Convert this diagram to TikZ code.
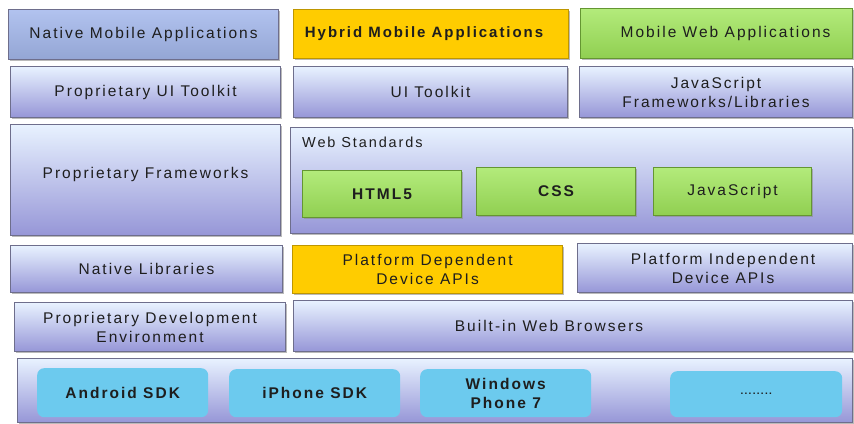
\documentclass[tikz,border=0pt]{standalone}
\usepackage{fontspec}
\setmainfont{Liberation Sans}[LetterSpace=13]
\usetikzlibrary{shadows}
\definecolor{lavtop}{RGB}{232,242,255}
\definecolor{lavmid}{RGB}{206,208,250}
\definecolor{lavbot}{RGB}{150,150,215}
\definecolor{bordc}{RGB}{110,110,140}
\definecolor{natblue}{RGB}{164,184,236}
\definecolor{hyb}{RGB}{255,204,0}
\definecolor{hybb}{RGB}{190,150,0}
\definecolor{grn}{RGB}{160,230,90}
\definecolor{grnb}{RGB}{100,150,50}
\definecolor{sdk}{RGB}{108,202,238}
\definecolor{txt}{RGB}{30,30,30}
\begin{document}
\begin{tikzpicture}[x=1pt,y=1pt,
  base/.style={anchor=north west, inner sep=0pt, align=center, text=txt,
    font=\fontsize{15.5}{19}\selectfont,
    drop shadow={shadow xshift=1.5pt, shadow yshift=-1.5pt, fill=black!45, opacity=0.6}},
  lav/.style={base, draw=bordc, line width=1.1pt, top color=lavtop, middle color=lavmid, bottom color=lavbot},
  nat/.style={base, draw=bordc, line width=1.1pt, top color=natblue!85!white, bottom color=natblue!90!black},
  hybbox/.style={base, draw=hybb, line width=1.1pt, fill=hyb},
  grnbox/.style={base, draw=grnb, line width=1.1pt, top color=grn!80!white, bottom color=grn!90!black},
  sdkbox/.style={anchor=north west, inner sep=0pt, align=center, text=txt, fill=sdk,
    rounded corners=7pt, font=\bfseries\fontsize{15.5}{19}\selectfont},
  box/.style n args={2}{minimum width=#1pt, minimum height=#2pt}
]
\useasboundingbox (0,0) rectangle (854,-423);
\fill[white] (0,0) rectangle (854,-423);
% row 1
\node[nat, box={270}{50}] (nma) at (8,-9) {Native Mobile Applications};
\node[hybbox, box={275}{49}, font=\bfseries\fontsize{15}{19}\selectfont] (hma) at (293,-9) {Hybrid Mobile Applications\hspace*{14pt}};
\node[grnbox, box={272}{50}] (mwa) at (580,-8) {\hspace*{18pt}Mobile Web Applications};
% row 2
\node[lav, box={270}{51}] (put) at (10,-66) {Proprietary UI Toolkit};
\node[lav, box={274}{51}] (uit) at (293,-66) {UI Toolkit};
\node[lav, box={273}{51}] (jsf) at (579,-66) {JavaScript\\Frameworks/Libraries};
% row 3
\node[lav, box={270}{111}] (pf) at (10,-124) {\raisebox{15pt}{Proprietary Frameworks}};
\node[lav, box={562}{106}] (ws) at (290,-127) {};
\node[anchor=north west, inner sep=0pt, text=txt, font=\fontsize{14.5}{17}\selectfont] (wst) at (302,-137) {Web Standards};
\node[grnbox, box={159}{47}, font=\bfseries\fontsize{15.5}{19}\selectfont] (html) at (302,-170) {HTML5};
\node[grnbox, box={159}{48}, font=\bfseries\fontsize{15.5}{19}\selectfont] (css) at (476,-167) {CSS};
\node[grnbox, box={158}{48}] (js) at (653,-167) {JavaScript};
% row 4
\node[lav, box={272}{47}] (nl) at (10,-245) {Native Libraries};
\node[hybbox, box={270}{48}] (pdd) at (292,-245) {Platform Dependent\\Device APIs};
\node[lav, box={275}{49}] (pid) at (577,-243) {\hspace*{16pt}Platform Independent\\\hspace*{16pt}Device APIs};
% row 5
\node[lav, box={271}{49}] (pde) at (14,-302) {Proprietary Development\\Environment};
\node[lav, box={559}{51}] (bwb) at (293,-300) {Built-in Web Browsers\hspace*{48pt}};
% row 6
\node[lav, box={835}{64}, drop shadow={opacity=0}] (os) at (17,-358) {};
\node[sdkbox, box={171}{49}] (and) at (37,-368) {Android SDK};
\node[sdkbox, box={171}{48}] (iph) at (229,-369) {iPhone SDK};
\node[sdkbox, box={171}{48}] (wp7) at (420,-369) {Windows\\Phone 7};
\node[sdkbox, box={172}{46}] (dots) at (670,-371) {\fontsize{10}{12}\selectfont ........};
\end{tikzpicture}
\end{document}
